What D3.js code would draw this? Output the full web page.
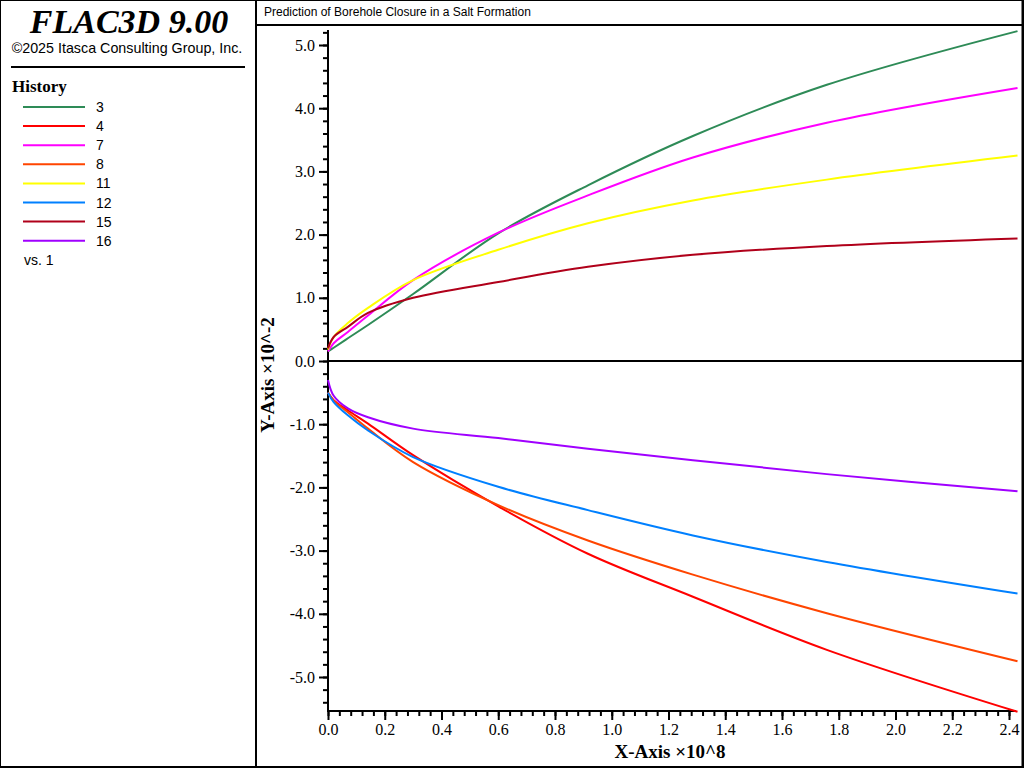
<!DOCTYPE html>
<html><head><meta charset="utf-8">
<script src="https://cdn.jsdelivr.net/npm/d3@7"></script>
<style>body{margin:0;background:#fff}svg{display:block}</style>
</head><body>
<script>
const xVals = [0, 0.02, 0.07, 0.141, 0.3, 0.6, 0.916, 1.286, 1.758, 2.43];
const hist3  = [0.15, 0.21, 0.36, 0.57, 1.06, 2.02, 2.78, 3.56, 4.37, 5.22];
const hist4  = [-0.5, -0.62, -0.78, -0.99, -1.49, -2.30, -3.05, -3.73, -4.57, -5.55];
const hist7  = [0.15, 0.28, 0.46, 0.72, 1.28, 2.03, 2.62, 3.22, 3.77, 4.32];
const hist8  = [-0.5, -0.63, -0.81, -1.07, -1.60, -2.28, -2.84, -3.38, -3.99, -4.75];
const hist11 = [0.18, 0.38, 0.60, 0.84, 1.28, 1.76, 2.18, 2.54, 2.87, 3.25];
const hist12 = [-0.5, -0.65, -0.86, -1.10, -1.52, -1.99, -2.36, -2.76, -3.18, -3.68];
const hist15 = [0.2, 0.38, 0.54, 0.76, 1.0, 1.25, 1.49, 1.68, 1.82, 1.94];
const hist16 = [-0.3, -0.55, -0.75, -0.89, -1.07, -1.22, -1.39, -1.57, -1.79, -2.06];
const seriesNames = ["3","4","7","8","11","12","15","16"];
const seriesData = [hist3,hist4,hist7,hist8,hist11,hist12,hist15,hist16];
const colors = ["#2e8b57","#ff0000","#ff00ff","#ff4500","#ffff00","#0080ff","#b0001a","#a000ff"];
const yTickLabels = ["5.0","4.0","3.0","2.0","1.0","0.0","-1.0","-2.0","-3.0","-4.0","-5.0"];
const xTickLabels = ["0.0","0.2","0.4","0.6","0.8","1.0","1.2","1.4","1.6","1.8","2.0","2.2","2.4"];

const svg = d3.select("body").append("svg").attr("width",1024).attr("height",768);
svg.append("rect").attr("x",0.5).attr("y",0.5).attr("width",1023).attr("height",767).attr("fill","none").attr("stroke","#000");
svg.append("line").attr("x1",256).attr("x2",256).attr("y1",0).attr("y2",768).attr("stroke","#000").attr("stroke-width",2);
svg.append("line").attr("x1",256).attr("x2",1024).attr("y1",25).attr("y2",25).attr("stroke","#000").attr("stroke-width",2);
svg.append("line").attr("x1",1022.5).attr("x2",1022.5).attr("y1",0).attr("y2",768).attr("stroke","#000").attr("stroke-width",2);
svg.append("line").attr("x1",0).attr("x2",1024).attr("y1",767).attr("y2",767).attr("stroke","#000").attr("stroke-width",2);
svg.append("text").attr("x",264).attr("y",16).attr("font-family","Liberation Sans, Arial").attr("font-size",12).text("Prediction of Borehole Closure in a Salt Formation");

// left panel
svg.append("text").attr("x",129).attr("y",33).attr("text-anchor","middle").attr("font-family","Liberation Serif, Times New Roman").attr("font-style","italic").attr("font-weight","bold").attr("font-size",34).text("FLAC3D 9.00");
svg.append("text").attr("x",127).attr("y",53).attr("text-anchor","middle").attr("font-family","Liberation Sans, Arial").attr("font-size",14.3).text("©2025 Itasca Consulting Group, Inc.");
svg.append("line").attr("x1",11).attr("x2",245).attr("y1",67).attr("y2",67).attr("stroke","#000").attr("stroke-width",2);
svg.append("text").attr("x",12).attr("y",92).attr("font-family","Liberation Serif, Times New Roman").attr("font-weight","bold").attr("font-size",17).text("History");
seriesNames.forEach((n,i)=>{
  const y = 107 + i*19.1;
  svg.append("line").attr("x1",23).attr("x2",85).attr("y1",y).attr("y2",y).attr("stroke",colors[i]).attr("stroke-width",2);
  svg.append("text").attr("x",96).attr("y",y+5).attr("font-family","Liberation Sans, Arial").attr("font-size",14).text(n);
});
svg.append("text").attr("x",24).attr("y",265).attr("font-family","Liberation Sans, Arial").attr("font-size",14).text("vs. 1");

// scales
const x = d3.scaleLinear().domain([0,2.4]).range([328,1009]);
const y = d3.scaleLinear().domain([0,5]).range([361,45]);
const serif = "Liberation Serif, Times New Roman";

// y axis
const yAxis = d3.axisLeft(y).tickValues(d3.range(-54,53,2).map(v=>v/10)).tickSize(5).tickFormat("");
svg.append("g").attr("transform","translate(328,0)").call(yAxis).call(g=>{g.select(".domain").remove();g.selectAll("line").attr("stroke-width",2);});
svg.append("g").attr("transform","translate(328,0)")
  .call(d3.axisLeft(y).tickValues(yTickLabels.map(Number)).tickSize(9).tickFormat((d,i)=>yTickLabels[i]))
  .call(g=>{g.select(".domain").remove();g.selectAll("line").attr("stroke-width",2);
    g.selectAll("text").attr("font-family",serif).attr("font-size",16).attr("x",-13);});
svg.append("line").attr("x1",328).attr("x2",328).attr("y1",30).attr("y2",712).attr("stroke","#000").attr("stroke-width",2);

// x axis
svg.append("g").attr("transform","translate(0,711)")
  .call(d3.axisBottom(x).tickValues(d3.range(0,61).map(v=>v*0.04)).tickSize(5).tickFormat(""))
  .call(g=>{g.select(".domain").remove();g.selectAll("line").attr("stroke-width",2);});
svg.append("g").attr("transform","translate(0,711)")
  .call(d3.axisBottom(x).tickValues(xTickLabels.map(Number)).tickSize(9).tickFormat((d,i)=>xTickLabels[i]))
  .call(g=>{g.select(".domain").remove();g.selectAll("line").attr("stroke-width",2);
    g.selectAll("text").attr("font-family",serif).attr("font-size",16).attr("y",13);});
svg.append("line").attr("x1",327).attr("x2",1016).attr("y1",711).attr("y2",711).attr("stroke","#000").attr("stroke-width",2);
svg.append("line").attr("x1",328).attr("x2",1022).attr("y1",y(0)).attr("y2",y(0)).attr("stroke","#000").attr("stroke-width",2);

svg.append("text").attr("x",670).attr("y",758).attr("text-anchor","middle").attr("font-family",serif).attr("font-weight","bold").attr("font-size",19).text("X-Axis ×10^8");
svg.append("text").attr("transform","translate(274,375) rotate(-90)").attr("text-anchor","middle").attr("font-family",serif).attr("font-weight","bold").attr("font-size",19).text("Y-Axis ×10^-2");

const line = d3.line().x((d,i)=>x(xVals[i])).y(d=>y(d)).curve(d3.curveCatmullRom.alpha(0.5));
seriesData.forEach((s,i)=>{
  svg.append("path").datum(s).attr("d",line).attr("fill","none").attr("stroke",colors[i]).attr("stroke-width",2);
});
</script>
</body></html>
